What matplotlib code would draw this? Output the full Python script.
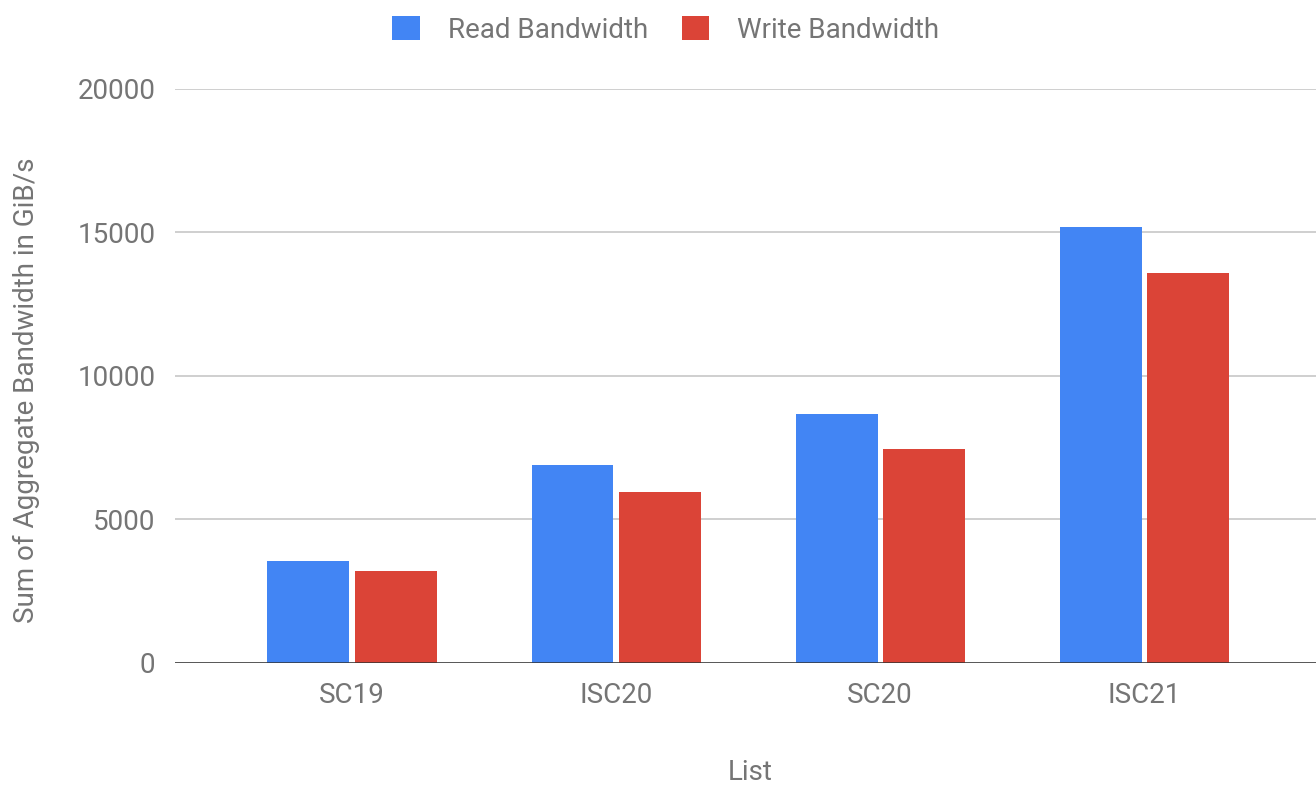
import numpy as np
import matplotlib.pyplot as plt

plt.rcParams["font.family"] = ["Roboto", "DejaVu Sans"]

lists = ["SC19", "ISC20", "SC20", "ISC21"]
read_bw = [3550, 6900, 8680, 15190]
write_bw = [3200, 5960, 7460, 13590]

BLUE = "#4285F4"
RED = "#DB4437"
TEXT = "#757575"

fig = plt.figure(figsize=(13.16, 7.87), dpi=100)
ax = fig.add_axes([0.133, 0.1576, 0.867, 0.7294])

x = np.arange(len(lists))
w = 0.31
ax.bar(x - w / 2 - 0.01, read_bw, w, color=BLUE, label="Read Bandwidth", zorder=3)
ax.bar(x + w / 2 + 0.01, write_bw, w, color=RED, label="Write Bandwidth", zorder=3)

ax.set_xlim(-0.67, 3.65)
ax.set_ylim(0, 20000)
ax.set_yticks([0, 5000, 10000, 15000, 20000])
ax.set_xticks(x)
ax.set_xticklabels(lists)
ax.tick_params(axis="both", length=0, labelsize=20, labelcolor=TEXT)
ax.tick_params(axis="x", pad=14)
ax.tick_params(axis="y", pad=14)
ax.grid(axis="y", color="#cccccc", linewidth=1.3, zorder=0)
ax.axhline(0, color="#333333", linewidth=1.8, zorder=4)
for s in ax.spines.values():
    s.set_visible(False)

# axis titles placed in figure coords
fig.text(0.02, 0.504, "Sum of Aggregate Bandwidth in GiB/s", fontsize=20, color=TEXT,
         rotation=90, ha="center", va="center")
fig.text(0.57, 0.019, "List", fontsize=20, color=TEXT, ha="center", va="center")

leg = fig.legend(loc="upper center", bbox_to_anchor=(0.506, 1.012), ncol=2, frameon=False,
                 fontsize=20, handlelength=1.0, handleheight=1.0, columnspacing=1.2,
                 handletextpad=1.0)
for t in leg.get_texts():
    t.set_color(TEXT)

plt.savefig("out.png", dpi=100)
